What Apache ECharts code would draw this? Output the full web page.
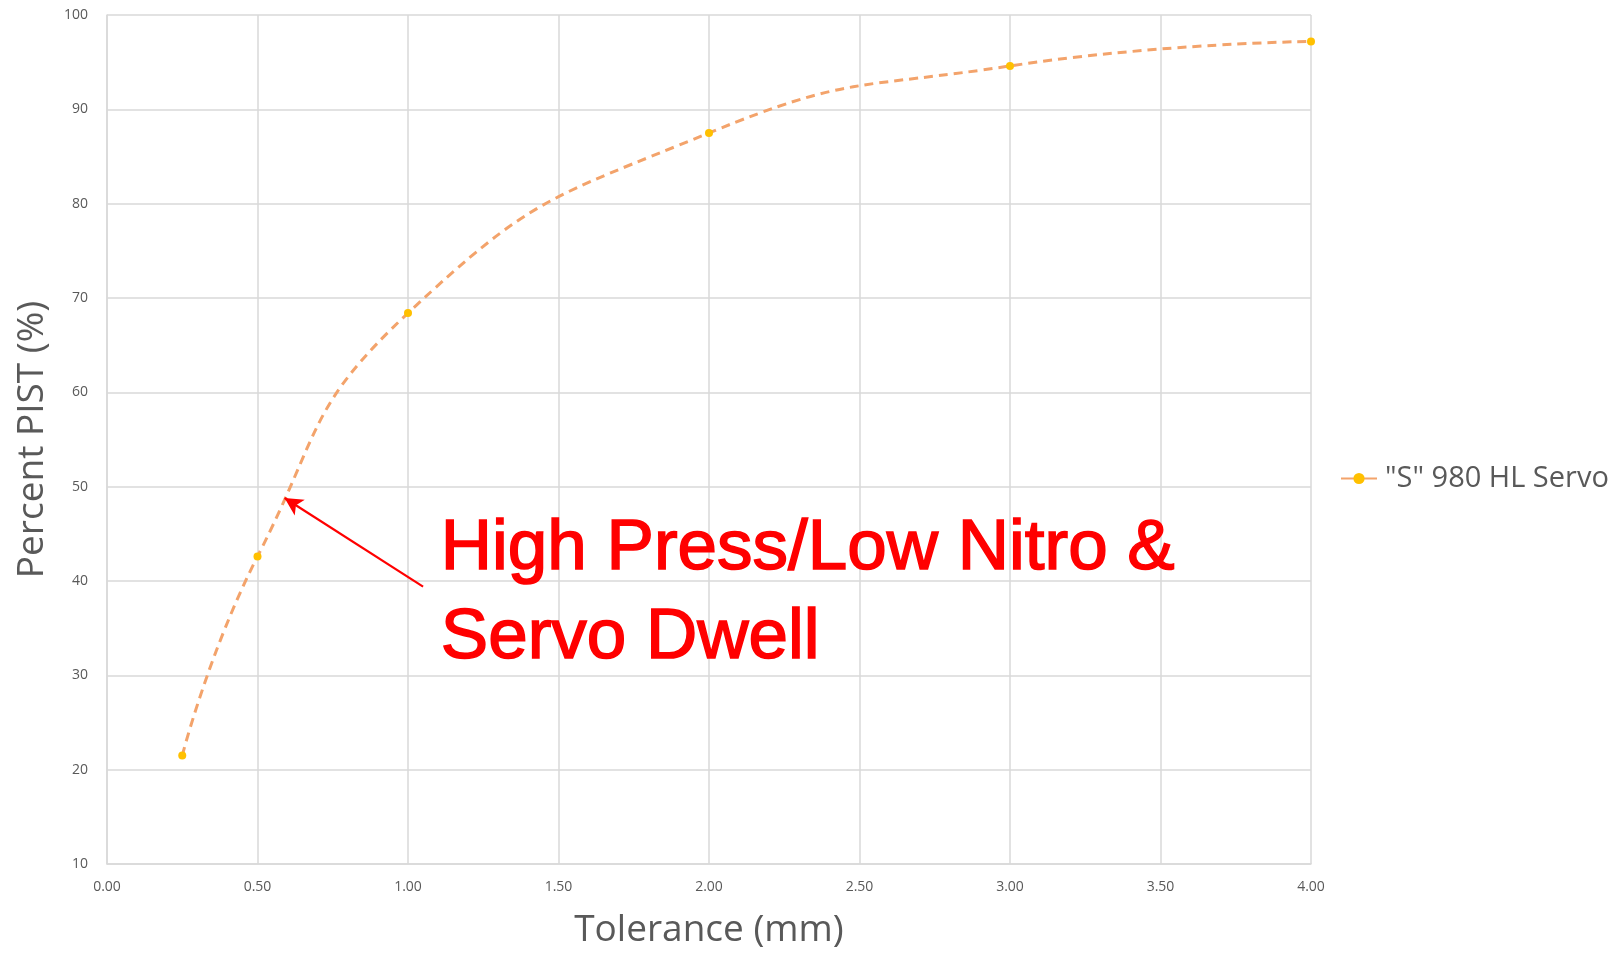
<!DOCTYPE html>
<html>
<head>
<meta charset="utf-8">
<script src="https://cdn.jsdelivr.net/npm/echarts@6/dist/echarts.min.js"></script>
<style>
  html, body { margin: 0; padding: 0; background: #fff; }
  #chart { width: 1623px; height: 954px; }
</style>
</head>
<body>
<div id="chart"></div>
<script>
// Tolerance (mm) vs percent PIST
const tolerance = [0.25, 0.5, 1.0, 2.0, 3.0, 4.0];
const pistPercent = [21.5, 42.6, 68.4, 87.5, 94.6, 97.2];
const seriesName = '"S" 980 HL Servo';
// Arrow annotation endpoints in data units: [tolerance, percent]
const arrowTail = [1.05, 39.4];
const arrowTip = [0.59, 48.8];
const noteLines = ['High Press/Low Nitro &', 'Servo Dwell'];

const axisGray = '#595959';
const gridGray = '#d9d9d9';

const chart = echarts.init(document.getElementById('chart'), null, { renderer: 'canvas' });

chart.setOption({
  backgroundColor: '#ffffff',
  animation: false,
  grid: { left: 107, top: 15, right: 312, bottom: 90, containLabel: false },
  xAxis: {
    type: 'value',
    min: 0, max: 4, interval: 0.5,
    name: 'Tolerance (mm)',
    nameLocation: 'middle',
    nameGap: 48,
    nameTextStyle: { fontFamily: 'Open Sans', fontSize: 37, color: axisGray },
    axisLine: { show: true, lineStyle: { color: gridGray, width: 1.5 } },
    axisTick: { show: false },
    axisLabel: {
      formatter: v => v.toFixed(2),
      fontFamily: 'Open Sans', fontSize: 14, color: axisGray, margin: 16
    },
    splitLine: { show: true, lineStyle: { color: gridGray, width: 1.5 } }
  },
  yAxis: {
    type: 'value',
    min: 10, max: 100, interval: 10,
    name: 'Percent PIST (%)',
    nameLocation: 'middle',
    nameGap: 56,
    nameTextStyle: { fontFamily: 'Open Sans', fontSize: 37, color: axisGray },
    axisLine: { show: true, lineStyle: { color: gridGray, width: 1.5 } },
    axisTick: { show: false },
    axisLabel: { fontFamily: 'Open Sans', fontSize: 14, color: axisGray, margin: 19 },
    splitLine: { show: true, lineStyle: { color: gridGray, width: 1.5 } }
  },
  legend: {
    show: true,
    left: 1335,
    top: 459,
    itemWidth: 36,
    itemHeight: 14,
    itemGap: 10,
    textStyle: { fontFamily: 'Open Sans', fontSize: 29, color: axisGray, padding: [0, 0, 0, 3] },
    data: [{ name: seriesName, lineStyle: { type: 'solid' } }]
  },
  series: [{
    name: seriesName,
    type: 'line',
    smooth: 0.5,
    data: tolerance.map((t, i) => [t, pistPercent[i]]),
    symbol: 'circle',
    symbolSize: 8,
    itemStyle: { color: '#FFC000' },
    lineStyle: { color: '#F3A36B', width: 3, type: [9, 6] },
    z: 3,
    markLine: {
      silent: true,
      symbol: ['none', 'arrow'],
      symbolSize: [14, 18],
      label: { show: false },
      lineStyle: { color: '#FF0000', width: 2.2, type: 'solid' },
      data: [[{ coord: arrowTail }, { coord: arrowTip }]]
    }
  }],
  graphic: noteLines.map((line, i) => ({
    type: 'text',
    left: 440,
    top: 513 + i * 89,
    z: 10,
    style: {
      text: line,
      fill: '#FF0000',
      stroke: '#FF0000',
      lineWidth: 1.6,
      font: '71px "Liberation Sans", Arial, sans-serif'
    }
  }))
});
</script>
</body>
</html>
